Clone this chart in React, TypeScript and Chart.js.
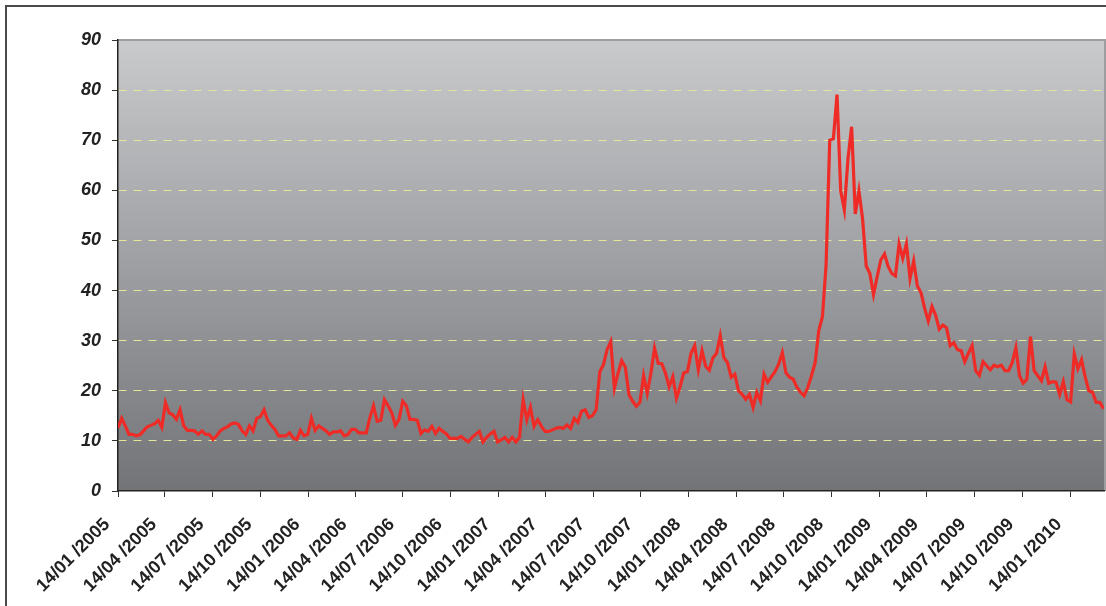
import React, { useEffect, useRef } from "react";
import { Chart, registerables } from "chart.js";

Chart.register(...registerables);

// ---- DATA ----
const START_DATE = "14/01/2005"; // first weekly observation (Friday)
const WEEK_DAYS = 7;

const X_TICK_LABELS = [
  "14/01 /2005", "14/04 /2005", "14/07 /2005", "14/10 /2005",
  "14/01 /2006", "14/04 /2006", "14/07 /2006", "14/10 /2006",
  "14/01 /2007", "14/04 /2007", "14/07 /2007", "14/10 /2007",
  "14/01 /2008", "14/04 /2008", "14/07 /2008", "14/10 /2008",
  "14/01 /2009", "14/04 /2009", "14/07 /2009", "14/10 /2009",
  "14/01 /2010",
];

const Y_MIN = 0;
const Y_MAX = 90;
const Y_STEP = 10;

// weekly closing values, 2005
const VALUES_2005 = [
  12.6, 14.5, 13.0, 11.3, 11.3, 11.0, 11.2, 12.0, 12.8, 13.1, 13.4, 14.1, 12.7,
  17.6, 15.6, 15.2, 14.3, 16.2, 13.0, 12.1, 12.1, 12.0, 11.3, 12.0, 11.3, 11.3,
  10.3, 11.0, 12.0, 12.5, 12.8, 13.4, 13.6, 13.3, 12.0, 11.3, 13.0, 12.0, 14.5,
  14.8, 16.2, 14.1, 13.1, 12.3, 11.0, 11.0, 11.0, 11.6, 10.6, 10.3, 12.1, 11.0,
];
// 2006
const VALUES_2006 = [
  11.3, 14.5, 12.1, 13.0, 12.5, 12.0, 11.3, 11.8, 11.8, 12.0, 11.0, 11.3, 12.3,
  12.3, 11.6, 11.6, 11.6, 14.6, 17.0, 13.9, 14.1, 18.2, 17.0, 15.6, 13.1, 14.3,
  17.9, 17.0, 14.3, 14.3, 14.1, 11.5, 12.2, 11.9, 12.9, 11.5, 12.5, 11.9, 11.4,
  10.5, 10.5, 10.5, 10.9, 10.3, 9.8, 10.7, 11.3, 11.9, 9.8, 10.7, 11.4, 11.9,
];
// 2007
const VALUES_2007 = [
  9.8, 10.2, 10.7, 9.8, 10.7, 9.8, 10.7, 18.2, 14.2, 16.7, 12.9, 14.2, 12.9,
  11.9, 11.9, 12.2, 12.5, 12.7, 12.5, 13.2, 12.5, 14.5, 13.7, 15.9, 16.2, 14.7,
  15.0, 16.2, 23.8, 25.2, 28.2, 29.8, 20.5, 23.5, 26.0, 24.7, 19.2, 17.9, 16.9,
  17.7, 23.0, 19.5, 23.5, 28.5, 25.5, 25.4, 23.5, 20.8, 22.8, 18.5, 20.8, 23.6,
];
// 2008
const VALUES_2008 = [
  23.8, 27.5, 29.0, 24.2, 28.0, 24.9, 24.1, 26.6, 27.5, 31.0, 26.6, 25.6, 22.7,
  23.3, 20.0, 19.3, 18.3, 19.3, 16.7, 19.7, 18.0, 23.3, 21.7, 22.8, 23.8, 25.3,
  27.6, 23.6, 22.7, 22.3, 20.7, 19.7, 19.0, 20.7, 23.0, 25.6, 32.0, 34.8, 45.1,
  70.0, 70.3, 79.1, 59.9, 56.1, 66.3, 72.7, 55.3, 59.9, 54.3, 44.9, 43.4,
];
// 2009
const VALUES_2009 = [
  39.2, 42.8, 46.1, 47.3, 44.8, 43.4, 42.9, 49.3, 46.4, 49.3, 42.4, 45.9, 40.9,
  39.6, 36.5, 33.9, 36.8, 35.1, 32.3, 33.1, 32.6, 29.0, 29.6, 28.2, 28.0, 25.8,
  27.5, 29.0, 24.0, 23.1, 25.8, 25.0, 24.2, 25.1, 24.8, 25.1, 24.0, 24.0, 25.6,
  28.6, 23.0, 21.5, 22.3, 30.8, 24.0, 23.0, 22.0, 24.8, 21.5, 21.8, 21.7, 19.3,
  21.8,
];
// 2010
const VALUES_2010 = [18.2, 17.8, 27.3, 24.4, 26.2, 22.7, 20.0, 19.7, 17.7, 17.7, 16.4];

const WEEKLY_VALUES = [
  ...VALUES_2005, ...VALUES_2006, ...VALUES_2007,
  ...VALUES_2008, ...VALUES_2009, ...VALUES_2010,
];

// ---- helpers ----
const DAY_MS = 86400000;
function parseDate(label: string): number {
  const [d, m, y] = label.replace(/\s/g, "").split("/").map(Number);
  return Date.UTC(y, m - 1, d);
}
const START_MS = parseDate(START_DATE);
function dayOffset(label: string): number {
  return Math.round((parseDate(label) - START_MS) / DAY_MS);
}
const TICK_DAYS = X_TICK_LABELS.map(dayOffset);
const POINTS = WEEKLY_VALUES.map((v, i) => ({ x: i * WEEK_DAYS, y: v }));
const X_MAX = (WEEKLY_VALUES.length - 1) * WEEK_DAYS + 1;

const FONT_FAMILY = "'Liberation Sans', Arial, Helvetica, sans-serif";

const backgroundPlugin = {
  id: "vixBackground",
  beforeDraw(chart: any) {
    const { ctx, chartArea: a, width, height } = chart;
    ctx.save();
    ctx.fillStyle = "#ffffff";
    ctx.fillRect(0, 0, width, height);
    // outer frame (top and left)
    ctx.fillStyle = "#4a4a4a";
    ctx.fillRect(5, 5, width - 5, 2);
    ctx.fillRect(5, 5, 2, height - 5);
    // plot area gradient
    const g = ctx.createLinearGradient(0, a.top, 0, a.bottom);
    g.addColorStop(0, "#c9cacc");
    g.addColorStop(1, "#737478");
    ctx.fillStyle = g;
    ctx.fillRect(a.left, a.top, a.right - a.left, a.bottom - a.top);
    // plot top and right border
    ctx.strokeStyle = "#9d9ea0";
    ctx.lineWidth = 2;
    ctx.beginPath();
    ctx.moveTo(a.left, a.top);
    ctx.lineTo(a.right + 1, a.top);
    ctx.lineTo(a.right + 1, a.bottom);
    ctx.stroke();
    ctx.restore();
  },
};

export default function App() {
  const canvasRef = useRef<HTMLCanvasElement | null>(null);

  useEffect(() => {
    const canvas = canvasRef.current;
    if (!canvas) return;
    const chart = new Chart(canvas, {
      type: "line",
      data: {
        datasets: [
          {
            data: POINTS,
            borderColor: "#ee2b26",
            borderWidth: 3.2,
            pointRadius: 0,
            tension: 0,
            fill: false,
          },
        ],
      },
      options: {
        responsive: false,
        animation: false,
        devicePixelRatio: 1,
        layout: { padding: { top: 40, right: 2, left: 0, bottom: 0 } },
        plugins: {
          legend: { display: false },
          title: { display: false },
          tooltip: { enabled: false },
        },
        scales: {
          x: {
            type: "linear",
            min: 0,
            max: X_MAX,
            afterFit: (s: any) => {
              s.height = 115;
            },
            afterBuildTicks: (s: any) => {
              s.ticks = TICK_DAYS.map((v) => ({ value: v }));
            },
            ticks: {
              autoSkip: false,
              maxRotation: 45,
              minRotation: 45,
              padding: 17,
              labelOffset: -11,
              color: "#222222",
              font: { family: FONT_FAMILY, size: 18, weight: "bold" },
              callback: (value: any) => {
                const idx = TICK_DAYS.indexOf(Number(value));
                return idx >= 0 ? X_TICK_LABELS[idx] : "";
              },
            },
            grid: {
              drawOnChartArea: false,
              drawTicks: true,
              tickLength: 6,
              tickColor: "#333333",
              color: "#333333",
            },
            border: { display: true, color: "#222222", width: 1.5 },
          },
          y: {
            type: "linear",
            min: Y_MIN,
            max: Y_MAX,
            afterFit: (s: any) => {
              s.width = 118;
            },
            ticks: {
              stepSize: Y_STEP,
              padding: 11,
              color: "#222222",
              font: { family: FONT_FAMILY, size: 18, weight: "bold", style: "italic" },
            },
            grid: {
              color: (c: any) =>
                c.tick && (c.tick.value === Y_MIN || c.tick.value === Y_MAX)
                  ? "rgba(0,0,0,0)"
                  : "#e6e69a",
              lineWidth: 1,
              drawTicks: true,
              tickLength: 6,
              tickColor: "#333333",
            },
            border: { display: true, color: "#222222", width: 1.5, dash: [8, 7] },
          },
        },
      },
      plugins: [backgroundPlugin],
    });
    return () => chart.destroy();
  }, []);

  return (
    <div style={{ position: "fixed", left: 0, top: 0, width: 1106, height: 606, background: "#fff" }}>
      <canvas ref={canvasRef} width={1106} height={606} style={{ display: "block" }} />
    </div>
  );
}
